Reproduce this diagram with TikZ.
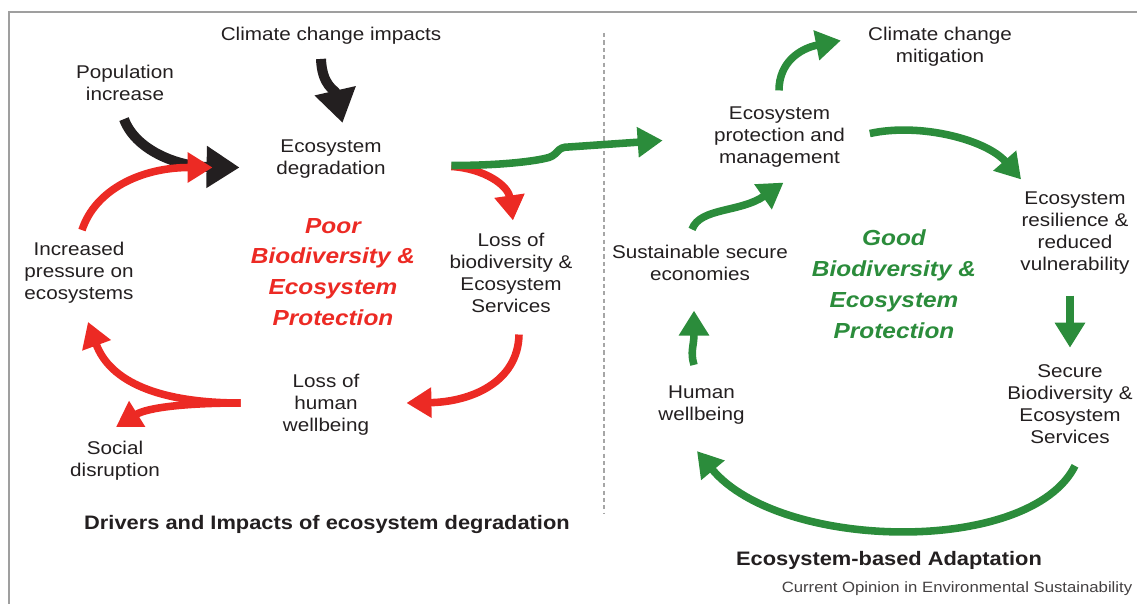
\documentclass[tikz,border=0pt]{standalone}
\usepackage{fontspec}
\setmainfont{Liberation Sans}[FakeStretch=1.12]
\usetikzlibrary{arrows.meta}
\definecolor{ink}{HTML}{231F20}
\definecolor{poorred}{HTML}{EC2A24}
\definecolor{goodgreen}{HTML}{2B8C3B}
\tikzset{item/.style = {align=center, inner sep=0pt, text=ink, font=\fontsize{10.5}{12.5}\selectfont}}
\tikzset{outlook/.style = {align=center, inner sep=0pt, font=\fontsize{12.4}{17.6}\selectfont\bfseries\itshape}}
\tikzset{heading/.style = {inner sep=0pt, text=ink, font=\fontsize{11.1}{13}\selectfont\bfseries}}
\tikzset{driver/.style = {draw=ink, line width=5.7pt, -{Triangle[length=0.66cm, width=0.8cm]}}}
\tikzset{loss/.style = {draw=poorred, line width=4.3pt, -{Triangle[length=0.5cm, width=0.58cm]}}}
\tikzset{gain/.style = {draw=goodgreen, line width=4.3pt, -{Triangle[length=0.5cm, width=0.58cm]}}}

\begin{document}
\begin{tikzpicture}[x=0.02cm, y=-0.02cm]
            \useasboundingbox (0,0) rectangle (1137,604);
            % Frame and divider
            \draw[gray!75, line width=1.1pt] (1137,12) -- (9,12) -- (9,604);
            \draw[gray!70, line width=1.1pt, dash pattern=on 2.4pt off 1.8pt] (604,33) -- (604,513);

            % Vertices
            % degradation side
            \node[item] (climate) at (331,36) {Climate change impacts};
            \node[item] (pop) at (125,83) {Population\\increase};
            \node[item] (degr) at (331,159.5) {Ecosystem\\degradation};
            \node[item] (pressure) at (79,273) {Increased\\pressure on\\ecosystems};
            \node[item] (lossbio) at (511,272.5) {Loss of\\biodiversity \&\\Ecosystem\\Services};
            \node[item] (losshw) at (326,405) {Loss of\\human\\wellbeing};
            \node[item] (social) at (115,461) {Social\\disruption};
            \node[outlook, text=poorred] (poor) at (333,272) {Poor\\Biodiversity \&\\Ecosystem\\Protection};
            \node[heading] (drivers) at (327,525) {Drivers and Impacts of ecosystem degradation};

            % adaptation side
            \node[item] (mitig) at (940,46.5) {Climate change\\mitigation};
            \node[item] (protect) at (779.5,137) {Ecosystem\\protection and\\management};
            \node[item] (resil) at (1075,233) {Ecosystem\\resilience \&\\reduced\\vulnerability};
            \node[item] (econ) at (700,262.5) {Sustainable secure\\economies};
            \node[item] (secure) at (1070,404) {Secure\\Biodiversity \&\\Ecosystem\\Services};
            \node[item] (humanwb) at (701.5,405.5) {Human\\wellbeing};
            \node[outlook, text=goodgreen] (good) at (894,284) {Good\\Biodiversity \&\\Ecosystem\\Protection};
            \node[heading] (eba) at (889,560) {Ecosystem-based Adaptation};
            \node[item, font=\fontsize{8.5}{10}\selectfont, text=ink!85] (credit) at (957,589) {Current Opinion in Environmental Sustainability};

            % Edges
            % drivers
            \draw[driver] ([shift={(-10,14)}]climate.south) .. controls +(1,27) and +(-7.5,-33) .. ([shift={(11.5,-17)}]degr.north);
            \draw[driver] ([shift={(-1,18)}]pop.south) .. controls +(11,30) and +(-64,-1) .. ([shift={(-36.5,8)}]degr.west);

            % poor loop
            \draw[loss] ([shift={(3,-12)}]pressure.north) .. controls +(13,-40) and +(-72,0) .. ([shift={(-63.5,8)}]degr.west);
            \draw[loss] ([shift={(65.5,7)}]degr.east) .. controls +(33,2) and +(-5,-35) .. ([shift={(2,-12)}]lossbio.north);
            \draw[loss] ([shift={(8,22)}]lossbio.south) .. controls +(-1,48) and +(64,-1) .. ([shift={(37,-2)}]losshw.east);
            \draw[loss] ([shift={(-42,-2)}]losshw.west) .. controls +(-81,0) and +(22,60) .. ([shift={(9,18)}]pressure.south);
            \draw[loss] ([shift={(-42,-2)}]losshw.west) .. controls +(-51,0) and +(32,-20) .. ([shift={(1,-14)}]social.north);

            % good loop
            \draw[gain, rounded corners=2pt] ([shift={(65.5,6)}]degr.east) .. controls +(48,0) and +(-18,5) .. ++(101,-9) -- ++(9,-9) -- ([shift={(-51,3.5)}]protect.west);
            \draw[gain] ([shift={(-0.5,-16)}]protect.north) .. controls +(0,-28) and +(-41,8) .. ([shift={(-27,-6)}]mitig.west);
            \draw[gain] ([shift={(24.5,-3.5)}]protect.east) .. controls +(50,-11) and +(-35,-40) .. ([shift={(1,-12)}]resil.north west);
            \draw[gain] ([shift={(-5,21)}]resil.south) -- ([shift={(0,-16.5)}]secure.north);
            \draw[gain] ([shift={(5,22)}]secure.south) .. controls +(-45,90) and +(83,100) .. ([shift={(-4.5,26)}]humanwb.south);
            \draw[gain] ([shift={(-7.5,-21)}]humanwb.north) .. controls +(-4,-13) and +(0,35) .. ([shift={(-6,30)}]econ.south);
            \draw[gain] ([shift={(-8,-15)}]econ.north) .. controls +(8,-22) and +(-43,30) .. ([shift={(4,15)}]protect.south);
        \end{tikzpicture}
\end{document}
